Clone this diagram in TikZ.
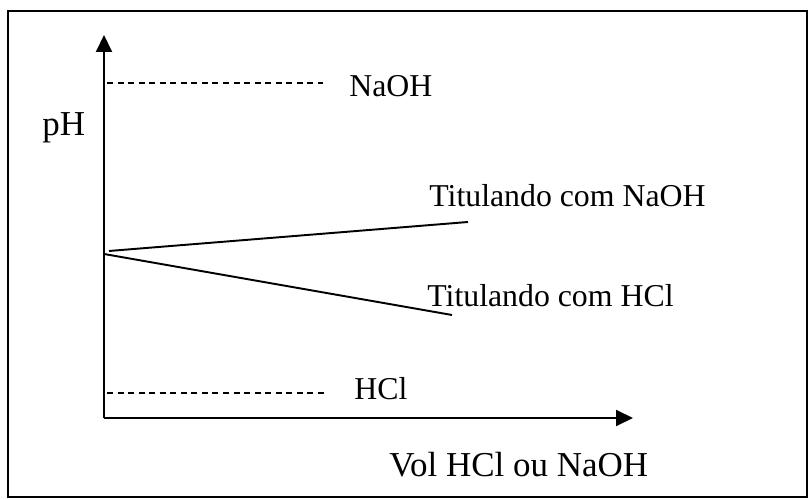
\documentclass[tikz,border=0pt]{standalone}
\usepackage{fontspec}
\setmainfont{Liberation Serif}
\usetikzlibrary{arrows.meta,positioning}

\begin{document}
\begin{tikzpicture}[x=1cm,y=1cm,
  axis/.style={line width=1.1pt,-{Triangle[length=0.34cm,width=0.32cm]}},
  limit/.style={line width=0.6pt,dash pattern=on 3.4pt off 2.6pt},
  curve/.style={line width=1.1pt},
  lbl/.style={inner sep=0pt,anchor=base west,font=\fontsize{18.1}{22}\selectfont},
  biglbl/.style={lbl,font=\fontsize{19.9}{24}\selectfont}]
\useasboundingbox (0,0) rectangle (16.2,10);
\draw[line width=0.8pt] (0.16,0.06) rectangle (16.14,9.78);
% axes
\coordinate (o) at (2.08,1.64);
\coordinate (ytip) at (2.08,9.30);
\coordinate (xtip) at (12.66,1.64);
\draw[axis] (o)--(ytip);
\draw[axis] (o)--(xtip);
% limits
\coordinate (nl) at (2.14,8.34);
\coordinate (nr) at (6.46,8.34);
\coordinate (hl) at (2.14,2.14);
\coordinate (hr) at (6.50,2.14);
\draw[limit] (nl)--(nr);
\draw[limit] (hl)--(hr);
% titration lines
\coordinate (s1) at (2.18,4.98);
\coordinate (e1) at (9.36,5.56);
\coordinate (s2) at (2.08,4.92);
\coordinate (e2) at (9.04,3.70);
\draw[curve] (s1)--(e1);
\draw[curve] (s2)--(e2);
% labels
\node[biglbl] (ph) at (0.84,7.28) {pH};
\node[lbl] (naoh) at (6.98,8.06) {NaOH};
\node[lbl] (hcl) at (7.08,2.00) {HCl};
\node[lbl] (tnaoh) at (8.58,5.86) {Titulando com NaOH};
\node[lbl] (thcl) at (8.54,3.86) {Titulando com HCl};
\node[biglbl] (vol) at (7.78,0.46) {Vol HCl ou NaOH};
\end{tikzpicture}
\end{document}
